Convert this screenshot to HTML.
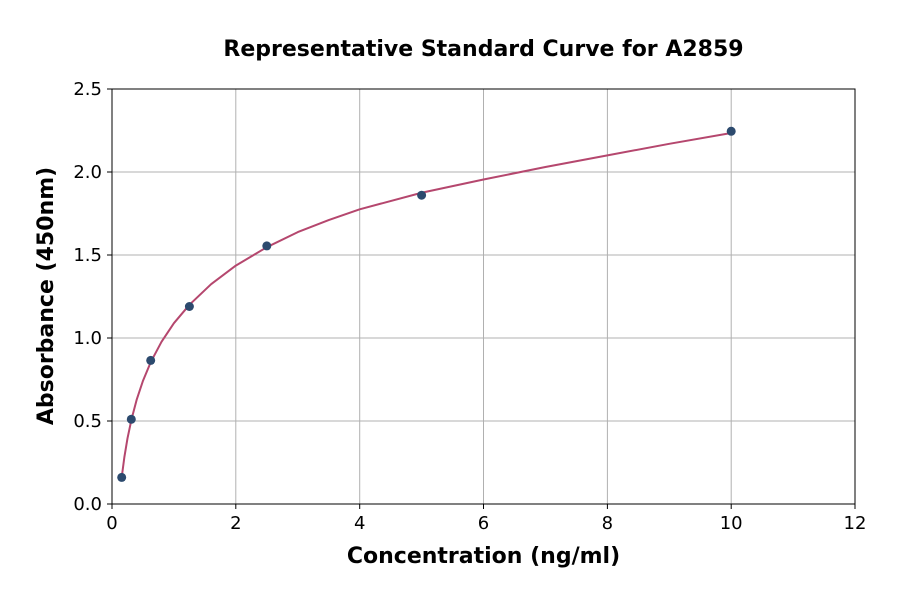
<!DOCTYPE html>
<html><head><style>body{margin:0;background:#fff}</style></head><body>
<svg width="900" height="594" xmlns="http://www.w3.org/2000/svg" font-family="DejaVu Sans, Liberation Sans, sans-serif">
<rect width="900" height="594" fill="#fff"/>
<g stroke="#b0b0b0" stroke-width="1">
<line x1="235.8" y1="89" x2="235.8" y2="504"/><line x1="359.7" y1="89" x2="359.7" y2="504"/>
<line x1="483.5" y1="89" x2="483.5" y2="504"/><line x1="607.4" y1="89" x2="607.4" y2="504"/>
<line x1="731.2" y1="89" x2="731.2" y2="504"/>
<line x1="112" y1="421" x2="855" y2="421"/><line x1="112" y1="338" x2="855" y2="338"/>
<line x1="112" y1="255" x2="855" y2="255"/><line x1="112" y1="172" x2="855" y2="172"/>
</g>
<rect x="112" y="89" width="743" height="415" fill="none" stroke="#000" stroke-width="1"/>
<g stroke="#000">
<line x1="112" y1="504" x2="112" y2="509"/><line x1="235.8" y1="504" x2="235.8" y2="509"/><line x1="359.7" y1="504" x2="359.7" y2="509"/><line x1="483.5" y1="504" x2="483.5" y2="509"/><line x1="607.4" y1="504" x2="607.4" y2="509"/><line x1="731.2" y1="504" x2="731.2" y2="509"/><line x1="855" y1="504" x2="855" y2="509"/>
<line x1="107" y1="504" x2="112" y2="504"/><line x1="107" y1="421" x2="112" y2="421"/><line x1="107" y1="338" x2="112" y2="338"/><line x1="107" y1="255" x2="112" y2="255"/><line x1="107" y1="172" x2="112" y2="172"/><line x1="107" y1="89" x2="112" y2="89"/>
</g>
<g font-size="18" text-anchor="middle" fill="#000">
<text x="112" y="529">0</text><text x="235.8" y="529">2</text><text x="359.7" y="529">4</text><text x="483.5" y="529">6</text><text x="607.4" y="529">8</text><text x="731.2" y="529">10</text><text x="855" y="529">12</text>
</g>
<g font-size="18" text-anchor="end" fill="#000">
<text x="102" y="510">0.0</text><text x="102" y="427">0.5</text><text x="102" y="344">1.0</text><text x="102" y="261">1.5</text><text x="102" y="178">2.0</text><text x="102" y="95">2.5</text>
</g>
<text x="483.5" y="563" font-size="22" font-weight="bold" text-anchor="middle">Concentration (ng/ml)</text>
<text transform="translate(53,296) rotate(-90)" font-size="22" font-weight="bold" text-anchor="middle">Absorbance (450nm)</text>
<text x="483.5" y="56" font-size="22" font-weight="bold" text-anchor="middle">Representative Standard Curve for A2859</text>
<polyline fill="none" stroke="#b5476e" stroke-width="2" stroke-linejoin="round" points="121.7,477.4 124.4,456.9 127.5,438.3 131.4,419.8 136.8,399.3 143,380.7 150.7,362.2 161.5,341.8 173.9,323.2 189.4,304.8 211.1,284.2 235.8,265.6 266.8,247.2 297.8,232.1 328.7,220.1 359.7,209.3 421.6,192.75 483.5,179.5 545.4,167 607.4,155.4 669.3,143.8 731.2,133"/>
<g fill="#2c4a6e">
<circle cx="121.7" cy="477.4" r="4.5"/><circle cx="131.3" cy="419.3" r="4.5"/><circle cx="150.7" cy="360.4" r="4.5"/><circle cx="189.4" cy="306.5" r="4.5"/><circle cx="266.8" cy="245.9" r="4.5"/><circle cx="421.6" cy="195.2" r="4.5"/><circle cx="731.2" cy="131.3" r="4.5"/>
</g>
</svg>
</body></html>
